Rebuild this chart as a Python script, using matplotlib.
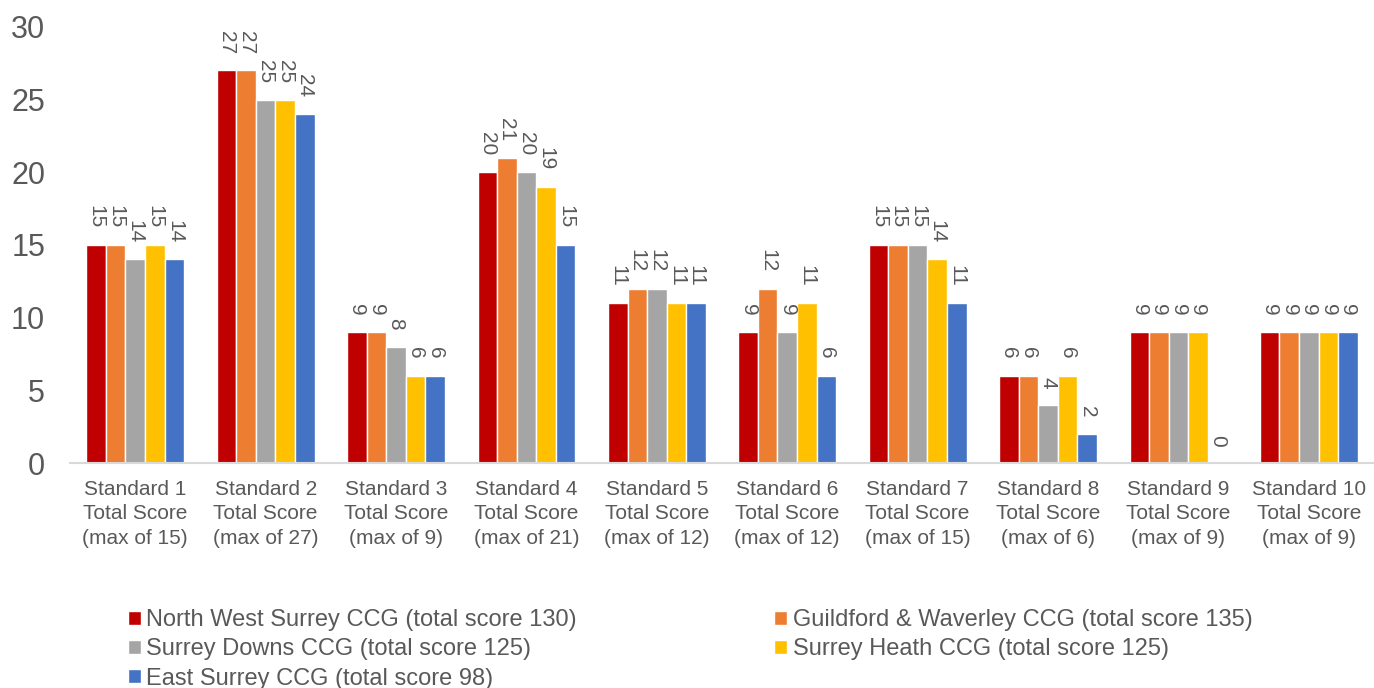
# Bar chart of standard scores per CCG
import numpy as np
import matplotlib.pyplot as plt

plt.rcParams['font.family'] = ['Liberation Sans', 'DejaVu Sans']

# Categories (x-axis labels)
categories = [
    "Standard 1\nTotal Score\n(max of 15)",
    "Standard 2\nTotal Score\n(max of 27)",
    "Standard 3\nTotal Score\n(max of 9)",
    "Standard 4\nTotal Score\n(max of 21)",
    "Standard 5\nTotal Score\n(max of 12)",
    "Standard 6\nTotal Score\n(max of 12)",
    "Standard 7\nTotal Score\n(max of 15)",
    "Standard 8\nTotal Score\n(max of 6)",
    "Standard 9\nTotal Score\n(max of 9)",
    "Standard 10\nTotal Score\n(max of 9)",
]

# Series values
north_west = [15, 27, 9, 20, 11, 9, 15, 6, 9, 9]
guildford = [15, 27, 9, 21, 12, 12, 15, 6, 9, 9]
surrey_downs = [14, 25, 8, 20, 12, 9, 15, 4, 9, 9]
surrey_heath = [15, 25, 6, 19, 11, 11, 14, 6, 9, 9]
east_surrey = [14, 24, 6, 15, 11, 6, 11, 2, 0, 9]

series_names = [
    "North West Surrey CCG (total score 130)",
    "Guildford & Waverley CCG (total score 135)",
    "Surrey Downs CCG (total score 125)",
    "Surrey Heath CCG (total score 125)",
    "East Surrey CCG (total score 98)",
]
series_values = [north_west, guildford, surrey_downs, surrey_heath, east_surrey]
colors = ["#C00000", "#ED7D31", "#A5A5A5", "#FFC000", "#4472C4"]

text_color = "#595959"

fig = plt.figure(figsize=(13.74, 6.88), dpi=100)
ax = fig.add_axes([0.051, 0.327, 0.949, 0.634])

x = np.arange(len(categories))
width = 0.15
bars = []
for i, (name, vals, c) in enumerate(zip(series_names, series_values, colors)):
    offs = (i - 2) * width
    b = ax.bar(x + offs, vals, width, color=c, edgecolor="white", linewidth=1.0, label=name)
    bars.append(b)
    for xi, v in zip(x + offs, vals):
        ax.annotate(str(v), (xi, v), xytext=(0, 12), textcoords="offset points",
                    rotation=270, ha="center", va="bottom", fontsize=15,
                    color=text_color)

ax.set_xlim(-0.5, len(categories) - 0.5)
ax.set_ylim(0, 30)
ax.set_yticks(range(0, 31, 5))
ax.set_xticks(x)
ax.set_xticklabels(categories, fontsize=15, color=text_color, linespacing=1.38)
ax.tick_params(axis="y", labelsize=22, labelcolor=text_color, length=0, pad=18)
ax.tick_params(axis="x", length=0, pad=12)

for s in ["top", "right", "left"]:
    ax.spines[s].set_visible(False)
ax.spines["bottom"].set_color("#D9D9D9")
ax.spines["bottom"].set_linewidth(1.5)

# Legend, ordered so rows read across
order = [0, 2, 4, 1, 3]
fig.legend([bars[i] for i in order], [series_names[i] for i in order],
           loc="upper left", bbox_to_anchor=(0.086, 0.128), ncol=2,
           frameon=False, fontsize=17, labelcolor=text_color,
           handlelength=0.55, handleheight=0.55, handletextpad=0.25,
           columnspacing=8.35, labelspacing=0.3, borderaxespad=0,
           bbox_transform=fig.transFigure)

fig.savefig("out.png", dpi=100)
